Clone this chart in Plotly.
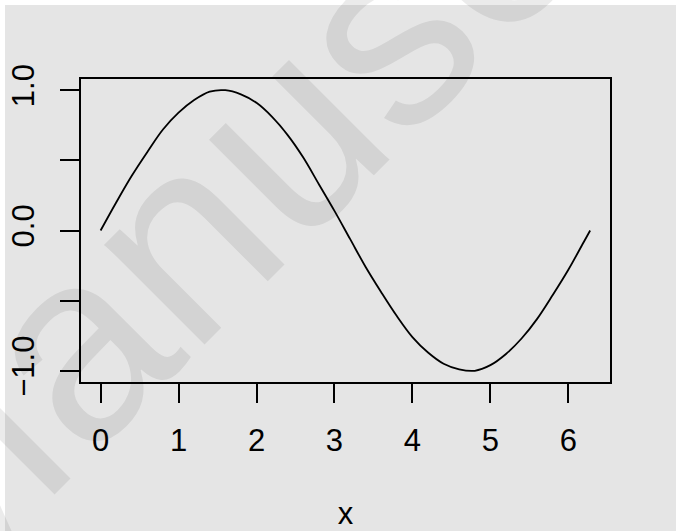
import plotly.graph_objects as go

# Curve values
x_vals = [0.0, 0.2, 0.4, 0.6, 0.8, 1.0, 1.2, 1.4, 1.6, 1.8, 2.0, 2.2, 2.4, 2.6, 2.8,
          3.0, 3.2, 3.4, 3.6, 3.8, 4.0, 4.2, 4.4, 4.6, 4.8, 5.0, 5.2, 5.4, 5.6, 5.8,
          6.0, 6.2, 6.28]
y_vals = [0.00, 0.20, 0.39, 0.56, 0.72, 0.84, 0.93, 0.99, 1.00, 0.97, 0.91, 0.81,
          0.68, 0.52, 0.33, 0.14, -0.06, -0.26, -0.44, -0.61, -0.76, -0.87, -0.95,
          -0.99, -1.00, -0.96, -0.88, -0.77, -0.63, -0.46, -0.28, -0.08, 0.00]

x_ticks = [0, 1, 2, 3, 4, 5, 6]
x_tick_labels = ["0", "1", "2", "3", "4", "5", "6"]
y_ticks = [-1.0, -0.5, 0.0, 0.5, 1.0]
y_tick_labels = ["\u22121.0", "", "0.0", "", "1.0"]
x_title = "x"
watermark = "Manuscript"

W, H = 676, 531
L, R, T, B = 81, 66, 79, 149
pw, ph = W - L - R, H - T - B

def px_x(p):
    return (p - L) / pw

def px_y(p):
    return (H - B - p) / ph

FONT = "Liberation Sans, Arial, Helvetica, sans-serif"
BG = "#E5E5E5"

fig = go.Figure()
fig.add_trace(go.Scatter(x=x_vals, y=y_vals, mode="lines", line_shape="spline",
                         line=dict(color="black", width=1.8), hoverinfo="skip",
                         showlegend=False))

axis_common = dict(showline=True, linecolor="black", linewidth=2, mirror=True,
                   ticks="outside", ticklen=19, tickwidth=2, tickcolor="black",
                   showgrid=False, zeroline=False,
                   tickfont=dict(family=FONT, size=31, color="black"))

fig.update_xaxes(range=[-0.2513, 6.5345], tickvals=x_ticks, ticktext=x_tick_labels,
                 title=dict(text=x_title, font=dict(family=FONT, size=31, color="black"),
                            standoff=60),
                 ticklabelstandoff=11, **axis_common)
fig.update_yaxes(range=[-1.08, 1.08], tickvals=y_ticks, ticktext=y_tick_labels,
                 tickangle=-90, ticklabelstandoff=14, **axis_common)

# white strips at top and left, gray canvas elsewhere
fig.add_shape(type="rect", xref="paper", yref="paper", layer="below",
              x0=px_x(5), x1=px_x(W + 5), y0=px_y(H + 5), y1=px_y(5),
              fillcolor=BG, line=dict(width=0))

# translucent diagonal watermark
fig.add_annotation(text=watermark, xref="paper", yref="paper",
                   x=px_x(327), y=px_y(92), xanchor="center", yanchor="middle",
                   textangle=-45, showarrow=False,
                   font=dict(family=FONT, size=268, color="rgba(0,0,0,0.08)"))

fig.update_layout(width=W, height=H, margin=dict(l=L, r=R, t=T, b=B, autoexpand=False),
                  paper_bgcolor="white", plot_bgcolor=BG,
                  font=dict(family=FONT, color="black"))

fig.write_html("out.html", config={"displayModeBar": False, "staticPlot": True},
               post_script="document.body.style.margin='0';document.body.style.overflow='hidden';")
